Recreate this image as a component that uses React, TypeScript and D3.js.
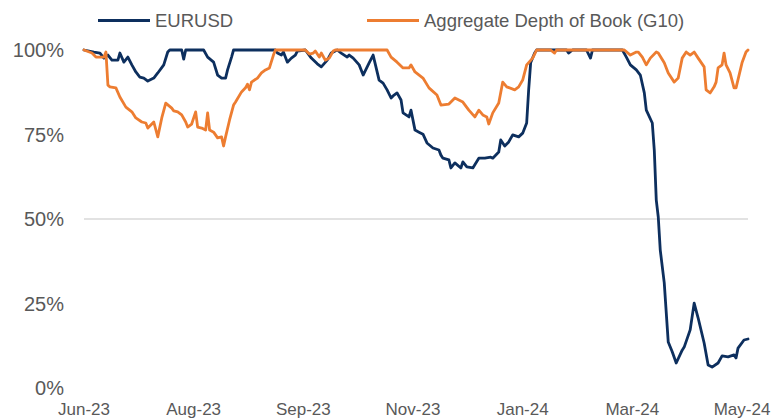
import React from 'react';
import * as d3 from 'd3';

const parse = d3.timeParse('%Y-%m-%d');
const START = '2023-06-08';
const END = '2024-05-06';

const tickDates = ['2023-06-08', '2023-08-02', '2023-09-26', '2023-11-20', '2024-01-14', '2024-03-09', '2024-05-03'];
const tickLabels = ['Jun-23', 'Aug-23', 'Sep-23', 'Nov-23', 'Jan-24', 'Mar-24', 'May-24'];
const yTicks = [0, 25, 50, 75, 100];
const gridValues = [50];

const seriesNames = ['EURUSD', 'Aggregate Depth of Book (G10)'];
const seriesColors = ['#0d2f5e', '#ed7d31'];

// days since START
const eurDay = [0, 5, 8, 10, 12, 14, 17, 18, 20, 22, 24, 26, 28, 30, 32, 33, 35, 37, 40, 42, 43, 49, 50, 51, 60, 62, 65, 67, 69, 71, 72, 74, 75,
  96, 97, 99, 100, 102, 104, 106, 107, 111, 114, 117, 119, 122, 124, 127, 129, 132, 133, 135, 138, 140, 143, 145, 148, 150, 152, 154, 155, 157, 159,
  160, 163, 164, 166, 168, 170, 172, 175, 178, 179, 180, 183, 184, 186, 189, 190, 192, 195, 198, 201, 204, 205, 208, 209, 211, 213, 215, 218, 220,
  222, 223, 224, 226, 227, 242, 243, 245, 252, 254, 255, 270, 272, 274, 277, 279, 281, 282, 285, 286, 287, 288, 289, 291, 293, 295, 297, 300, 301,
  304, 306, 308, 311, 313, 315, 318, 320, 323, 326, 327, 328, 331, 333];
const eurValue = [100, 99.4, 99.1, 97.6, 98.5, 97.0, 97.0, 99.1, 96.4, 97.9, 95.6, 93.5, 92.0, 91.7, 90.8, 91.1, 91.7, 93.2, 95.6, 99.4, 100, 100, 97.3, 100, 100, 97.9, 96.4, 92.6, 91.7, 91.7, 94.1, 97.9, 100,
  100, 99.1, 98.5, 99.4, 96.4, 97.6, 98.5, 99.7, 100, 97.6, 95.9, 95.0, 97.0, 99.1, 100, 99.1, 97.9, 98.5, 97.6, 95.6, 92.6, 96.2, 98.5, 91.1, 90.2, 88.2, 85.8, 86.4, 87.3, 85.2,
  81.4, 80.2, 82.2, 76.3, 75.7, 75.1, 72.5, 71.0, 70.4, 68.9, 68.0, 67.5, 65.1, 66.6, 65.1, 66.9, 65.4, 65.1, 68.0, 68.0, 68.3, 68.0, 69.8, 73.4, 71.6, 72.8, 74.9, 74.3, 75.4,
  78.4, 88.2, 96.2, 99.1, 100, 100, 99.1, 100, 100, 97.6, 100, 100, 97.9, 95.6, 94.1, 92.6, 87.3, 82.2, 78.4, 70.4, 55.6, 50.6, 40.8, 31.1, 13.6, 10.7, 7.4, 11.2, 12.1,
  17.2, 25.1, 20.7, 13.3, 6.8, 6.2, 7.4, 9.5, 9.2, 9.8, 8.9, 11.8, 14.2, 14.5];

const depthDay = [0, 4, 6, 10, 11, 12, 13, 16, 18, 21, 24, 26, 29, 31, 32, 35, 37, 39, 41, 44, 45, 47, 49, 51, 52, 54, 56, 57, 59, 61, 62, 63, 65, 67, 69, 70, 71,
  73, 75, 76, 79, 81, 82, 83, 84, 87, 89, 91, 93, 95, 96, 111, 113, 115, 116, 118, 119, 121, 123, 125, 126, 152, 154, 157, 160, 163, 164, 166, 170, 173, 177, 179,
  183, 186, 190, 193, 196, 198, 200, 202, 203, 205, 208, 210, 212, 216, 218, 220, 222, 225, 227, 234, 236, 237, 271, 274, 277, 278, 280, 282, 284, 287, 288, 291,
  293, 296, 298, 300, 302, 304, 306, 308, 311, 312, 314, 316, 317, 318, 320, 321, 322, 324, 326, 327, 330, 332, 333];
const depthValue = [100, 99.1, 97.9, 97.9, 99.4, 89.6, 89.1, 88.8, 86.1, 83.1, 81.7, 79.9, 78.7, 78.4, 76.9, 78.7, 74.3, 79.9, 84.3, 82.8, 82.0, 81.7, 80.8, 78.7, 77.2, 78.1, 81.7, 77.2, 76.9, 76.3, 81.4, 76.3, 75.7, 74.0, 74.3, 71.6, 74.3,
  79.3, 83.7, 84.6, 87.6, 88.8, 89.9, 88.2, 90.5, 91.7, 93.2, 94.1, 94.7, 98.5, 100, 100, 98.8, 99.1, 99.7, 97.9, 99.1, 97.0, 97.6, 99.7, 100, 100, 97.9, 96.4, 94.7, 94.7, 95.6, 93.5, 91.7, 88.8, 86.7, 83.7,
  84.0, 85.8, 84.6, 82.2, 80.2, 82.2, 80.8, 80.2, 78.1, 81.4, 84.3, 90.5, 89.1, 88.2, 89.1, 91.1, 95.6, 97.6, 100, 100, 99.1, 100, 100, 98.5, 99.4, 99.4, 97.9, 95.6, 97.6, 99.4, 99.1, 96.2,
  93.2, 90.5, 91.7, 97.6, 99.4, 98.5, 99.4, 97.6, 95.0, 88.2, 87.3, 89.1, 90.5, 94.7, 95.6, 99.1, 95.6, 93.2, 88.8, 88.8, 96.2, 99.4, 100];

const W = 772;
const H = 418;
const FONT = '"Liberation Sans", Arial, Helvetica, sans-serif';
const TEXT = '#595959';

export default function App() {
  const start = parse(START) as Date;
  const x = d3.scaleTime().domain([start, parse(END) as Date]).range([84, 748]);
  const y = d3.scaleLinear().domain([0, 100]).range([388, 50]);

  const line = d3
    .line<[Date, number]>()
    .x((d) => x(d[0]))
    .y((d) => y(d[1]));

  const eur: [Date, number][] = eurDay.map((d, i) => [d3.timeDay.offset(start, d), eurValue[i]]);
  const depth: [Date, number][] = depthDay.map((d, i) => [d3.timeDay.offset(start, d), depthValue[i]]);
  const series = [eur, depth];

  const legendX = [98, 367];

  return (
    <svg width={W} height={H} style={{ position: 'absolute', left: 0, top: 0, background: '#fff' }} fontFamily={FONT}>
      <rect width={W} height={H} fill="#fff" />
      {gridValues.map((g) => (
        <line key={g} x1={x.range()[0]} x2={x.range()[1]} y1={y(g)} y2={y(g)} stroke="#d9d9d9" strokeWidth={1.6} />
      ))}
      {yTicks.map((t) => (
        <text key={t} x={64} y={y(t)} dy="0.36em" textAnchor="end" fontSize={20} fill={TEXT}>
          {t}%
        </text>
      ))}
      {tickDates.map((t, i) => (
        <text key={t} x={x(parse(t) as Date)} y={415} textAnchor="middle" fontSize={17} fill={TEXT}>
          {tickLabels[i]}
        </text>
      ))}
      {series.map((s, i) => (
        <path key={i} d={line(s) || ''} fill="none" stroke={seriesColors[i]} strokeWidth={2.8} strokeLinejoin="round" strokeLinecap="round" />
      ))}
      {seriesNames.map((n, i) => (
        <g key={n}>
          <line x1={legendX[i]} x2={legendX[i] + 52} y1={20.5} y2={20.5} stroke={seriesColors[i]} strokeWidth={2.8} />
          <text x={legendX[i] + 57} y={27} fontSize={18.5} fill={TEXT}>
            {n}
          </text>
        </g>
      ))}
    </svg>
  );
}
